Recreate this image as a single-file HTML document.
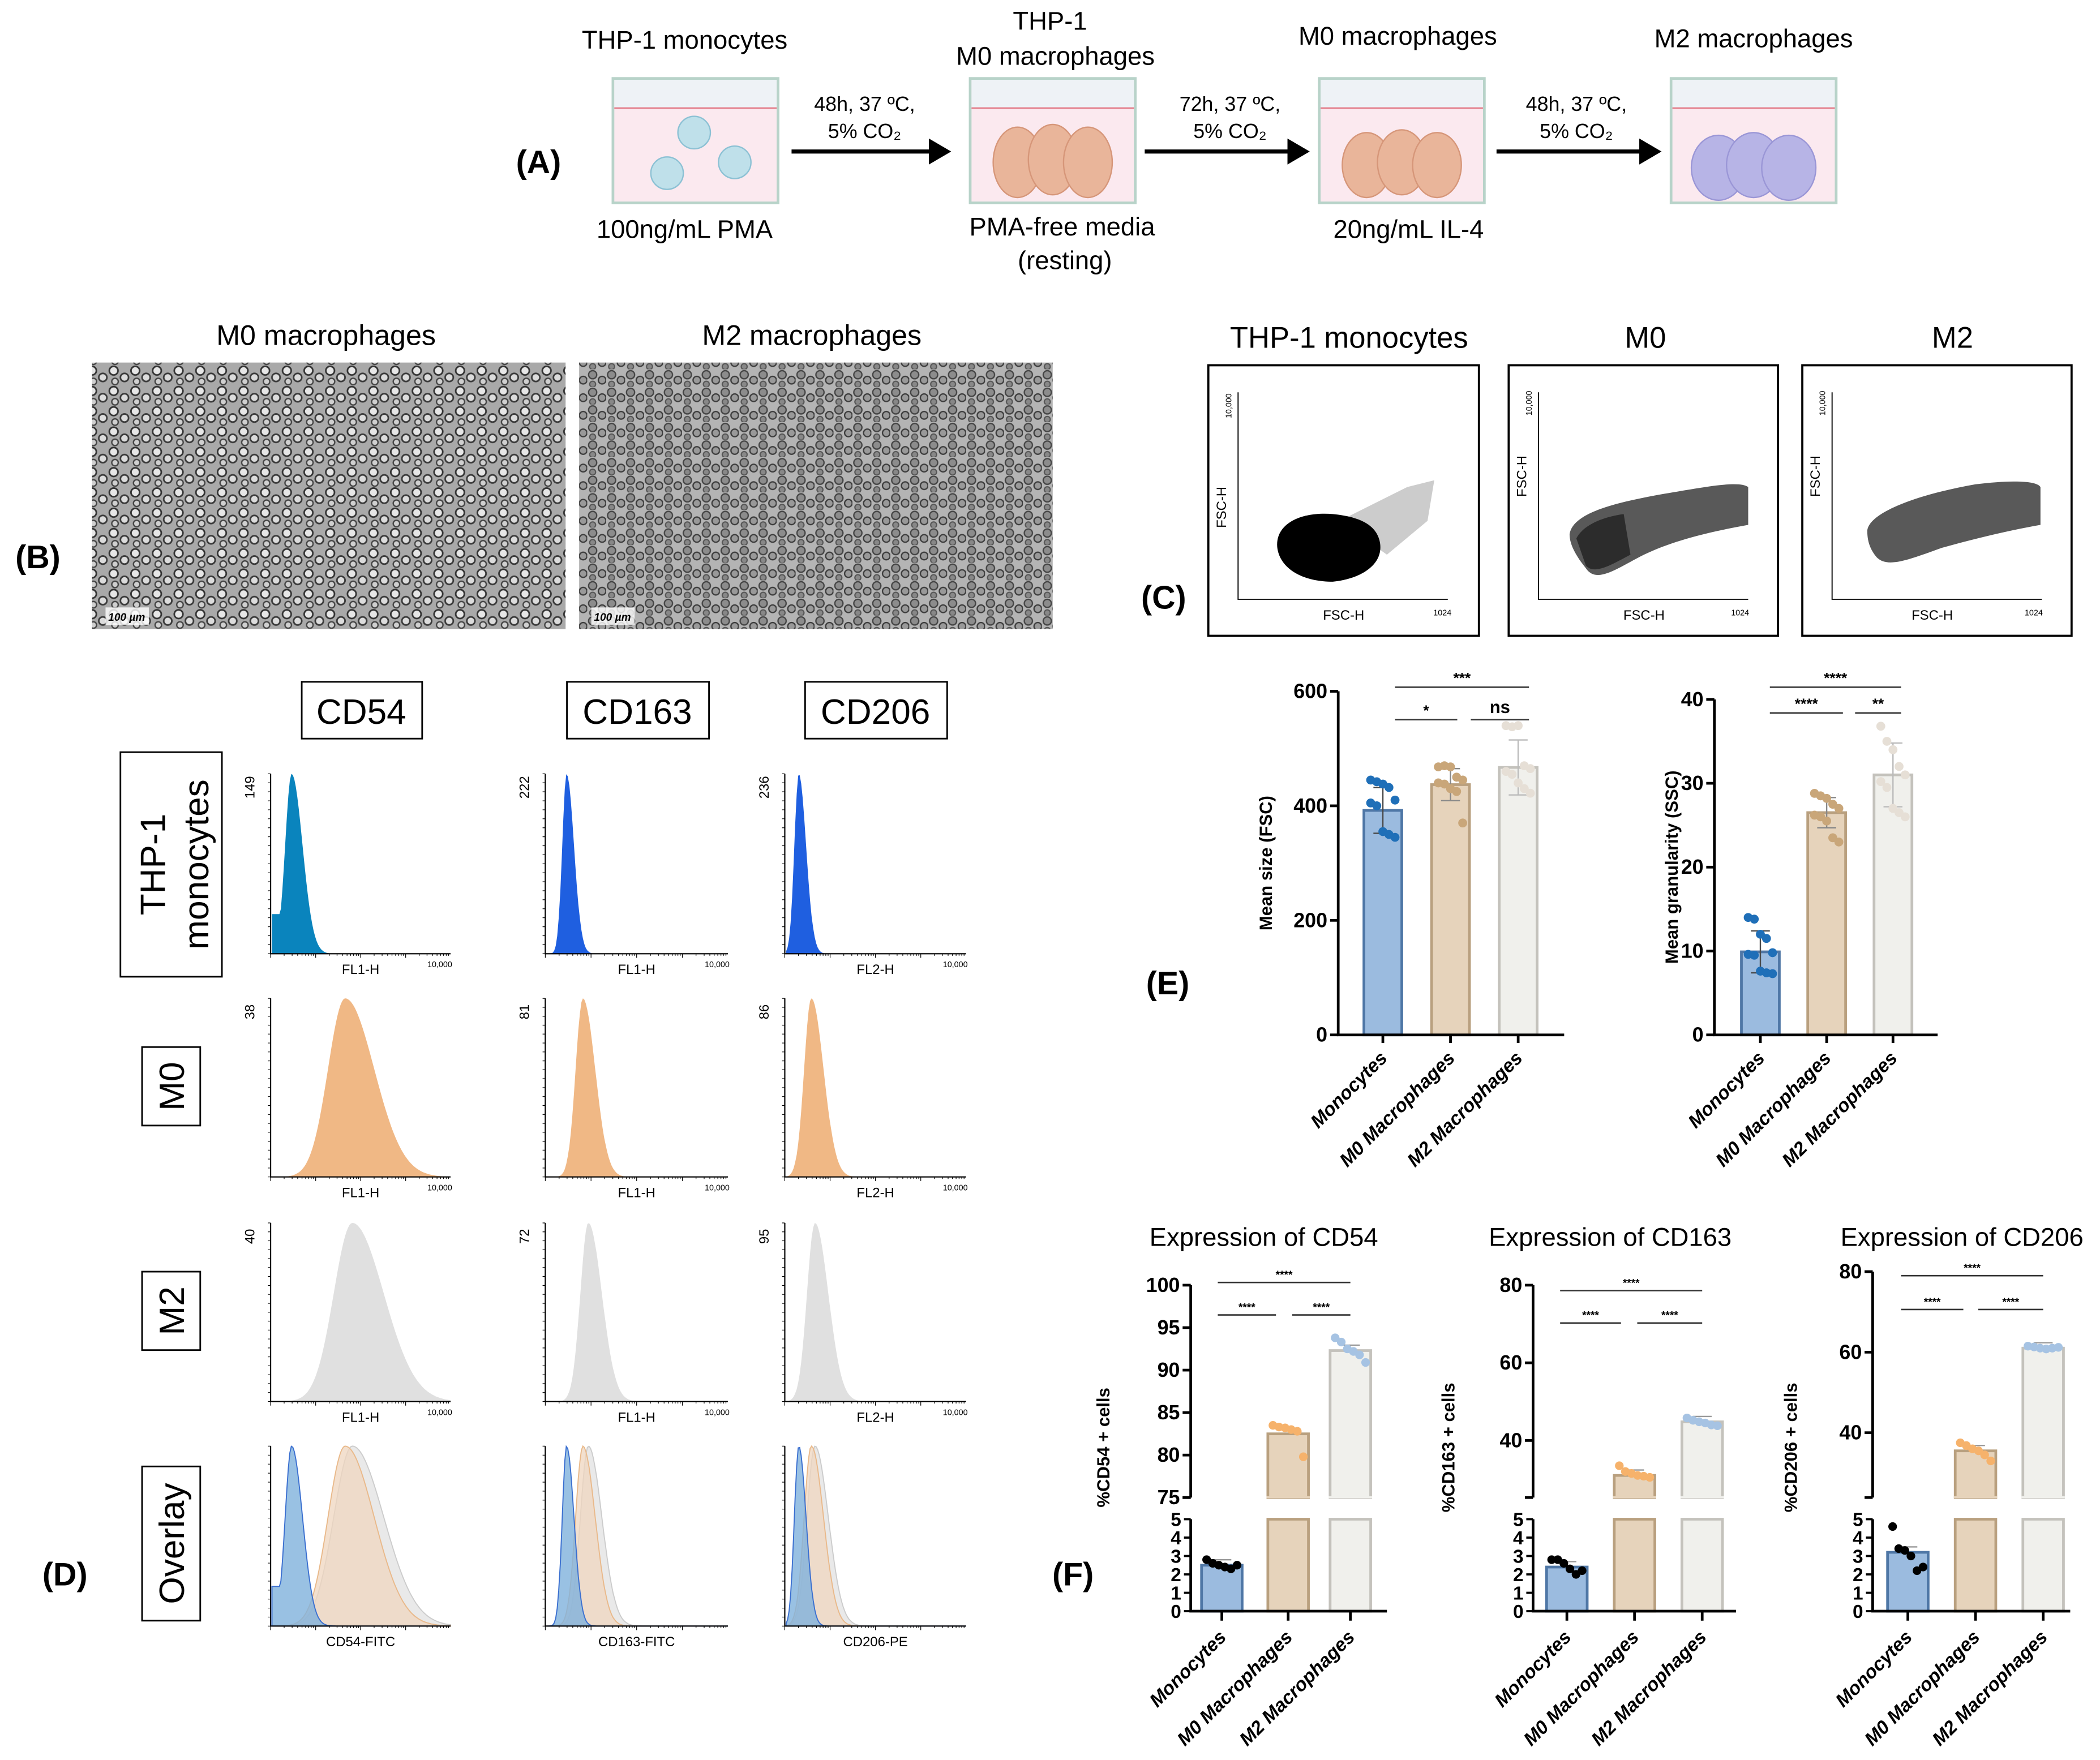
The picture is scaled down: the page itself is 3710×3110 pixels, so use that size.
<!DOCTYPE html>
<html><head><meta charset="utf-8"><style>
html,body{margin:0;padding:0;background:#fff}
svg{display:block;font-family:"Liberation Sans",Arial,sans-serif}
</style></head><body>
<svg id="fig" width="3710" height="3110" viewBox="0 0 1552 1301" xmlns="http://www.w3.org/2000/svg">
<defs>
<pattern id="cellsM0" width="16" height="15" patternUnits="userSpaceOnUse">
<rect width="16" height="15" fill="#a9a9a9"/>
<circle cx="4" cy="4" r="3.2" fill="#e6e6e6" stroke="#333" stroke-width="1.2"/>
<circle cx="12" cy="9" r="3" fill="#dcdcdc" stroke="#3a3a3a" stroke-width="1.2"/>
<circle cx="5" cy="12" r="2.4" fill="#d0d0d0" stroke="#444" stroke-width="1"/>
</pattern>
<pattern id="cellsM2" width="14" height="13" patternUnits="userSpaceOnUse">
<rect width="14" height="13" fill="#b4b4b4"/>
<circle cx="4" cy="4" r="3" fill="#8c8c8c" stroke="#444" stroke-width="1"/>
<circle cx="11" cy="8" r="2.8" fill="#999" stroke="#3c3c3c" stroke-width="1"/>
<circle cx="4" cy="11" r="2.2" fill="#888" stroke="#555" stroke-width="0.9"/>
</pattern>
</defs>

<!-- Panel A -->
<g font-size="19" text-anchor="middle" fill="#000">
<text x="398" y="128" font-size="24" font-weight="bold">(A)</text>
<text x="506" y="36">THP-1 monocytes</text>
<text x="776" y="22">THP-1</text>
<text x="780" y="48">M0 macrophages</text>
<text x="1033" y="33">M0 macrophages</text>
<text x="1296" y="35">M2 macrophages</text>
<text x="506" y="176">100ng/mL PMA</text>
<text x="785" y="174">PMA-free media</text>
<text x="787" y="199">(resting)</text>
<text x="1041" y="176">20ng/mL IL-4</text>
<g font-size="15">
<text x="639" y="82">48h, 37 ºC,</text><text x="639" y="102">5% CO₂</text>
<text x="909" y="82">72h, 37 ºC,</text><text x="909" y="102">5% CO₂</text>
<text x="1165" y="82">48h, 37 ºC,</text><text x="1165" y="102">5% CO₂</text>
</g>
<g stroke="#000" stroke-width="3">
<line x1="585" y1="112" x2="688" y2="112"/><polygon points="688,105 700,112 688,119" fill="#000"/>
<line x1="846" y1="112" x2="953" y2="112"/><polygon points="953,105 965,112 953,119" fill="#000"/>
<line x1="1106" y1="112" x2="1213" y2="112"/><polygon points="1213,105 1225,112 1213,119" fill="#000"/>
</g>
<g>
<g><rect x="453" y="58" width="122" height="92" fill="#fbe9ef" stroke="#b8d3c9" stroke-width="2"/><rect x="454" y="59" width="120" height="21" fill="#eef2f6"/><line x1="454" y1="80" x2="574" y2="80" stroke="#e58a96" stroke-width="1.5"/>
<circle cx="513" cy="98" r="12" fill="#bfe0ea" stroke="#8cc1d4"/><circle cx="493" cy="128" r="12" fill="#bfe0ea" stroke="#8cc1d4"/><circle cx="543" cy="120" r="12" fill="#bfe0ea" stroke="#8cc1d4"/></g>
<g><rect x="717" y="58" width="122" height="92" fill="#fbe9ef" stroke="#b8d3c9" stroke-width="2"/><rect x="718" y="59" width="120" height="21" fill="#eef2f6"/><line x1="718" y1="80" x2="838" y2="80" stroke="#e58a96" stroke-width="1.5"/>
<ellipse cx="752" cy="120" rx="18" ry="26" fill="#e9b59a" stroke="#d69679"/><ellipse cx="778" cy="118" rx="18" ry="26" fill="#e9b59a" stroke="#d69679"/><ellipse cx="804" cy="120" rx="18" ry="26" fill="#e9b59a" stroke="#d69679"/></g>
<g><rect x="975" y="58" width="122" height="92" fill="#fbe9ef" stroke="#b8d3c9" stroke-width="2"/><rect x="976" y="59" width="120" height="21" fill="#eef2f6"/><line x1="976" y1="80" x2="1096" y2="80" stroke="#e58a96" stroke-width="1.5"/>
<ellipse cx="1010" cy="122" rx="18" ry="24" fill="#e9b59a" stroke="#d69679"/><ellipse cx="1036" cy="120" rx="18" ry="24" fill="#e9b59a" stroke="#d69679"/><ellipse cx="1062" cy="122" rx="18" ry="24" fill="#e9b59a" stroke="#d69679"/></g>
<g><rect x="1235" y="58" width="122" height="92" fill="#fbe9ef" stroke="#b8d3c9" stroke-width="2"/><rect x="1236" y="59" width="120" height="21" fill="#eef2f6"/><line x1="1236" y1="80" x2="1356" y2="80" stroke="#e58a96" stroke-width="1.5"/>
<ellipse cx="1270" cy="124" rx="20" ry="24" fill="#b7b4e6" stroke="#9a96d6"/><ellipse cx="1296" cy="122" rx="20" ry="24" fill="#b7b4e6" stroke="#9a96d6"/><ellipse cx="1322" cy="124" rx="20" ry="24" fill="#b7b4e6" stroke="#9a96d6"/></g>
</g>
</g>

<!-- Panel B -->
<g>
<text x="28" y="420" font-size="24" font-weight="bold" text-anchor="middle">(B)</text>
<text x="241" y="255" font-size="21" text-anchor="middle">M0 macrophages</text>
<text x="600" y="255" font-size="21" text-anchor="middle">M2 macrophages</text>
<rect x="68" y="268" width="350" height="197" fill="url(#cellsM0)"/>
<rect x="428" y="268" width="350" height="197" fill="url(#cellsM2)"/>
<g font-size="8" font-style="italic" font-weight="bold"><rect x="78" y="449" width="32" height="13" fill="#fff" opacity="0.8"/><text x="80" y="459">100 µm</text>
<rect x="437" y="449" width="32" height="13" fill="#fff" opacity="0.8"/><text x="439" y="459">100 µm</text></g>
</g>

<!-- Panel C -->
<g>
<text x="860" y="450" font-size="24" font-weight="bold" text-anchor="middle">(C)</text>
<text x="997" y="257" font-size="22" text-anchor="middle">THP-1 monocytes</text>
<text x="1216" y="257" font-size="22" text-anchor="middle">M0</text>
<text x="1443" y="257" font-size="22" text-anchor="middle">M2</text>
<g fill="none" stroke="#000" stroke-width="1.6">
<rect x="893" y="270" width="200" height="200"/>
<rect x="1115" y="270" width="199" height="200"/>
<rect x="1332" y="270" width="199" height="200"/>
</g>
<g stroke="#000" stroke-width="0.8" fill="none">
<path d="M915,290 V443 H1070"/><path d="M1137,290 V443 H1292"/><path d="M1354,290 V443 H1509"/>
</g>
<g font-size="8" text-anchor="middle">
<text x="993" y="458" font-size="10">FSC-H</text><text x="1066" y="455" font-size="6">1024</text>
<text x="1215" y="458" font-size="10">FSC-H</text><text x="1286" y="455" font-size="6">1024</text>
<text x="1428" y="458" font-size="10">FSC-H</text><text x="1503" y="455" font-size="6">1024</text>
<text transform="translate(906,375) rotate(-90)" font-size="10">FSC-H</text>
<text transform="translate(1128,352) rotate(-90)" font-size="10">FSC-H</text>
<text transform="translate(1345,352) rotate(-90)" font-size="10">FSC-H</text>
<text transform="translate(910,300) rotate(-90)" font-size="6">10,000</text>
<text transform="translate(1132,298) rotate(-90)" font-size="6">10,000</text>
<text transform="translate(1349,298) rotate(-90)" font-size="6">10,000</text>
</g>
<g>
<path d="M944,405 C942,388 960,378 985,380 C1005,382 1018,388 1020,402 C1022,418 1005,428 985,430 C962,430 946,420 944,405Z" fill="#000"/>
<path d="M990,385 L1040,360 L1060,355 L1055,385 L1025,410Z" fill="#000" opacity="0.2"/>
<path d="M1160,395 C1162,380 1190,372 1230,365 C1260,360 1285,355 1292,360 L1292,388 C1270,392 1240,398 1215,410 C1195,420 1180,432 1172,420 C1164,410 1160,402 1160,395Z" fill="#000" opacity="0.65"/>
<path d="M1165,398 C1170,388 1185,382 1200,380 L1205,410 C1190,418 1178,425 1172,418Z" fill="#000" opacity="0.5"/>
<path d="M1380,392 C1382,378 1420,365 1460,358 C1485,355 1505,355 1508,360 L1508,388 C1485,392 1460,398 1435,405 C1410,414 1395,420 1387,412 C1381,405 1380,398 1380,392Z" fill="#000" opacity="0.65"/>
</g>
</g>

<!-- Panel D static labels -->
<g>
<text x="48" y="1172" font-size="24" font-weight="bold" text-anchor="middle">(D)</text>
<g fill="none" stroke="#000" stroke-width="1.2">
<rect x="223" y="504" width="89" height="42"/><rect x="419" y="504" width="105" height="42"/><rect x="595" y="504" width="105" height="42"/>
<rect x="89" y="556" width="75" height="166"/><rect x="105" y="774" width="43" height="58"/><rect x="105" y="940" width="43" height="58"/><rect x="105" y="1084" width="43" height="114"/>
</g>
<g font-size="26" text-anchor="middle">
<text x="267" y="535">CD54</text>
<text x="471" y="535">CD163</text>
<text x="647" y="535">CD206</text>
<text transform="translate(136,639) rotate(-90)"><tspan x="0" y="-14">THP-1</tspan><tspan x="0" y="18">monocytes</tspan></text>
<text transform="translate(136,803) rotate(-90)">M0</text>
<text transform="translate(136,969) rotate(-90)">M2</text>
<text transform="translate(136,1141) rotate(-90)">Overlay</text>
</g>
<g id="hists"></g>
</g>

<!-- Panel E, F -->
<text x="863" y="735" font-size="24" font-weight="bold" text-anchor="middle">(E)</text>
<text x="793" y="1172" font-size="24" font-weight="bold" text-anchor="middle">(F)</text>
<g id="charts"></g>
</svg>
<script>
const NS='http://www.w3.org/2000/svg';
const groups=['Monocytes','M0 Macrophages','M2 Macrophages'];
// Histogram data: peak position (fraction of log axis), left/right spread, max count label
const histMarkers=['CD54','CD163','CD206'];
const histPeakMono=[0.11,0.11,0.07];
const histPeakM0=[0.41,0.20,0.14];
const histPeakM2=[0.45,0.23,0.16];
const histSpreadMono=[0.045,0.03,0.03];
const histSpreadM0=[0.12,0.05,0.05];
const histSpreadM2=[0.13,0.055,0.055];
const histMaxMono=['149','222','236'];
const histMaxM0=['38','81','86'];
const histMaxM2=['40','72','95'];
const histXLabels=['FL1-H','FL1-H','FL2-H'];
const overlayXLabels=['CD54-FITC','CD163-FITC','CD206-PE'];
// Panel E data
const sizeMeans=[392,437,467];
const sizeSD=[40,28,48];
const sizePoints=[[445,442,438,432,410,405,400,355,350,345],[468,470,468,450,445,440,438,430,425,370],[540,538,540,470,465,460,455,440,430,422]];
const granMeans=[9.9,26.5,31];
const granSD=[2.5,1.8,3.8];
const granPoints=[[14,13.8,12,11.5,9.8,9.6,9.5,7.6,7.4,7.3],[28.8,28.5,28.2,27.5,27,26.2,26,25.5,23.5,23],[36.8,35,34,32,31,30.2,29.5,27,26.5,26]];
// Panel F data
const cd54Means=[2.5,82.5,92.3];
const cd54Points=[[2.8,2.6,2.5,2.4,2.3,2.5],[83.5,83.3,83.2,83,82.8,79.8],[93.8,93.3,92.5,92.2,91.8,90.9]];
const cd163Means=[2.4,31,44.8];
const cd163Points=[[2.8,2.8,2.6,2.3,2.0,2.2],[33.5,32,31.5,31,30.8,30.5],[45.8,45.2,44.8,44.5,44,43.8]];
const cd206Means=[3.2,35.5,61];
const cd206Points=[[4.6,3.4,3.3,3.0,2.2,2.4],[37.5,36.8,36,35.5,34.5,33],[61.5,61.3,61,60.8,61,61.2]];

const fills=['#9bbbdf','#e6d3bb','#f0f0ec'];
const strokes=['#4f77a6','#b9a07f','#c4c2bc'];
const dotCols=['#1f6fb8','#c9a679','#e6dfd6'];
const fDot=['#000','#f6b26b','#a6c3e3'];

function add(parent,tag,attrs){const e=document.createElementNS(NS,tag);for(const k in attrs)e.setAttribute(k,attrs[k]);parent.appendChild(e);return e;}

// ---------- histograms ----------
const hg=document.getElementById('hists');
const colX=[[200,333],[403,538],[580,714]];
const rowY=[[572,705],[738,870],[904,1036],[1069,1202]];
const histFill=['#0a84bd','#f0b885','#e0e0e0'];
const histFillAlt=['#0a84bd','#1f5fe0','#1f5fe0'];
function curve(x0,x1,y0,y1,peak,spr,shoulder){
  const w=x1-x0;let d='M'+x0+','+y1;
  for(let i=0;i<=120;i++){const f=i/120;const s=f<peak?spr*0.8:spr*1.35;let v=Math.exp(-Math.pow((f-peak)/s,2)/2);
    if(shoulder && f<peak) v=Math.max(v,0.22);
    d+=' L'+(x0+f*w).toFixed(1)+','+(y1-v*(y1-y0)).toFixed(1);}
  return d+' L'+x1+','+y1+'Z';
}
for(let c=0;c<3;c++){
  const [x0,x1]=colX[c];
  const peaks=[histPeakMono[c],histPeakM0[c],histPeakM2[c]];
  const sprs=[histSpreadMono[c],histSpreadM0[c],histSpreadM2[c]];
  const maxes=[histMaxMono[c],histMaxM0[c],histMaxM2[c]];
  for(let r=0;r<4;r++){
    const [y0,y1]=rowY[r];
    if(r<3){
      const p=add(hg,'path',{d:curve(x0+1,x1,y0,y1,peaks[r],sprs[r],r===0&&c===0),fill:r===0?histFillAlt[c]:histFill[r]});
      
      
      const t=add(hg,'text',{transform:'translate('+(x0-12)+','+(y0+10)+') rotate(-90)','font-size':'10','text-anchor':'middle'});t.textContent=maxes[r];
      
      
      const xl=add(hg,'text',{x:(x0+x1)/2,y:y1+15,'font-size':'10','text-anchor':'middle'});xl.textContent=histXLabels[c];
      
      
      const mx=add(hg,'text',{x:x1-8,y:y1+10,'font-size':'6','text-anchor':'middle'});mx.textContent='10,000';
    } else {
      const ov=[[2,'#e3e3e3',0.8],[1,'#efd6bf',0.75],[0,'#7fb2dc',0.8]];
      for(const [k,col,op] of ov){
        const p=add(hg,'path',{d:curve(x0+1,x1,y0,y1,peaks[k],sprs[k],k===0&&c===0),fill:col,'fill-opacity':op,stroke:k===0?'#3a6fd0':(k===1?'#e9b98a':'#ccc'),'stroke-width':'0.8'});
        
        
      }
      const xl=add(hg,'text',{x:(x0+x1)/2,y:y1+15,'font-size':'10','text-anchor':'middle'});xl.textContent=overlayXLabels[c];
      
      
    }
    add(hg,'path',{d:'M'+x0+','+y0+' V'+y1+' H'+x1,fill:'none',stroke:'#000','stroke-width':'0.9'});
    let ticks='';for(let i=0;i<=20;i++){ticks+='M'+(x0-2)+','+(y0+i*(y1-y0)/20)+' h2 ';}
    for(let dcd=0;dcd<4;dcd++){for(let m=1;m<10;m++){const xx=x0+(dcd+Math.log10(m))*(x1-x0)/4;ticks+='M'+xx.toFixed(1)+','+y1+' v'+(m===1?3:1.5)+' ';}}
    add(hg,'path',{d:ticks,stroke:'#000','stroke-width':'0.5',fill:'none'});
  }
}

// ---------- Panel E ----------
const cg=document.getElementById('charts');
function xlabels(g,xs,y){
  for(let i=0;i<3;i++){const t=add(g,'text',{transform:'translate('+(xs[i]+4)+','+(y)+') rotate(-45)','text-anchor':'end','font-size':'14','font-weight':'bold','font-style':'italic'});t.textContent=groups[i];
  
  }
}
function bracket(g,xa,xb,y,label,fs){
  add(g,'line',{x1:xa,x2:xb,y1:y,y2:y,stroke:'#333','stroke-width':'1.1'});
  const t=add(g,'text',{x:(xa+xb)/2,y:y-(label==='ns'?5:3),'text-anchor':'middle','font-size':label==='ns'?13:fs,'font-weight':'bold'});t.textContent=label;
  
  
}
function barChartE(name,ax,xEnd,bx,yTop,yBot,max,ticks,means,sds,pts,ylab,labX,brackets){
  const g=add(cg,'g',{});
  
  
  const Y=v=>yBot-(v/max)*(yBot-yTop);
  for(let i=0;i<3;i++){
    const r=add(g,'rect',{x:bx[i]-14,y:Y(means[i]),width:28,height:yBot-Y(means[i]),fill:fills[i],stroke:strokes[i],'stroke-width':'2'});
    
    
    const sc=i===0?'#4a4a4a':'#888';
    add(g,'path',{d:'M'+bx[i]+','+Y(means[i]+sds[i])+' V'+Y(means[i]-sds[i])+' M'+(bx[i]-7)+','+Y(means[i]+sds[i])+' h14 M'+(bx[i]-7)+','+Y(means[i]-sds[i])+' h14',stroke:i===2?'#bbb':sc,'stroke-width':'1',fill:'none'});
    pts[i].forEach((v,j)=>{const dx=((j%5)-2)*4.5;const c=add(g,'circle',{cx:bx[i]+dx,cy:Y(v),r:3.3,fill:dotCols[i]});
      
      });
  }
  add(g,'path',{d:'M'+ax+','+yTop+' V'+yBot+' H'+xEnd,stroke:'#000','stroke-width':'2',fill:'none'});
  ticks.forEach(v=>{add(g,'line',{x1:ax-6,x2:ax,y1:Y(v),y2:Y(v),stroke:'#000','stroke-width':'2'});
    const t=add(g,'text',{x:ax-8,y:Y(v)+5,'text-anchor':'end','font-size':'15','font-weight':'bold'});t.textContent=v;
    
    });
  bx.forEach(x=>add(g,'line',{x1:x,x2:x,y1:yBot,y2:yBot+6,stroke:'#000','stroke-width':'2'}));
  const yl=add(g,'text',{transform:'translate('+labX+','+((yTop+yBot)/2)+') rotate(-90)','text-anchor':'middle','font-size':'13','font-weight':'bold'});yl.textContent=ylab;
  
  
  brackets.forEach(b=>bracket(g,b[0],b[1],b[2],b[3],11));
  xlabels(g,bx,yBot+18);
}
barChartE('size-chart',989,1156,[1022,1072,1122],511,765,600,[0,200,400,600],sizeMeans,sizeSD,sizePoints,'Mean size (FSC)',940,
  [[1031,1130,508,'***'],[1031,1077,532,'*'],[1087,1130,532,'ns']]);
barChartE('granularity-chart',1267,1432,[1301,1350,1399],517,765,40,[0,10,20,30,40],granMeans,granSD,granPoints,'Mean granularity (SSC)',1240,
  [[1308,1405,508,'****'],[1308,1362,527,'****'],[1371,1405,527,'**']]);

// ---------- Panel F (broken axes) ----------
function brokenChart(name,title,titleX,ax,xEnd,bx,upMin,upMax,upTicks,upTopY,means,pts,ylab,labX,br){
  const g=add(cg,'g',{});
  
  
  const upBot=1107,loTop=1123,loBot=1191;
  const YU=v=>upBot-(v-upMin)/(upMax-upMin)*(upBot-upTopY);
  const YL=v=>loBot-v/5*(loBot-loTop);
  for(let i=0;i<3;i++){
    const m=means[i];
    if(m<=5){
      const r=add(g,'rect',{x:bx[i]-15,y:YL(m),width:30,height:loBot-YL(m),fill:fills[i],stroke:strokes[i],'stroke-width':'2'});
      
      
    } else {
      const r=add(g,'rect',{x:bx[i]-15,y:YU(m),width:30,height:upBot-YU(m),fill:fills[i],stroke:strokes[i],'stroke-width':'2'});
      
      
      add(g,'rect',{x:bx[i]-15,y:loTop,width:30,height:loBot-loTop,fill:fills[i],stroke:strokes[i],'stroke-width':'2'});
      add(g,'rect',{x:bx[i]-16,y:upBot-1,width:32,height:1.5,fill:fills[i]});
    }
    const Yf=v=>v<=5?YL(v):YU(v);
    add(g,'line',{x1:bx[i]-7,x2:bx[i]+7,y1:Yf(m)-4,y2:Yf(m)-4,stroke:'#999','stroke-width':'1'});
    pts[i].forEach((v,j)=>{const dx=((j%6)-2.5)*4.5;const c=add(g,'circle',{cx:bx[i]+dx,cy:Yf(v),r:3.2,fill:fDot[i]});
      
      });
  }
  add(g,'path',{d:'M'+ax+','+upTopY+' V'+upBot+' M'+(ax-6)+','+upBot+' h6 M'+ax+','+loTop+' V'+loBot+' H'+xEnd,stroke:'#000','stroke-width':'2',fill:'none'});
  upTicks.forEach(v=>{add(g,'line',{x1:ax-6,x2:ax,y1:YU(v),y2:YU(v),stroke:'#000','stroke-width':'2'});
    const t=add(g,'text',{x:ax-8,y:YU(v)+5,'text-anchor':'end','font-size':'15','font-weight':'bold'});t.textContent=v;
    
    });
  [0,1,2,3,4,5].forEach(v=>{add(g,'line',{x1:ax-5,x2:ax,y1:YL(v),y2:YL(v),stroke:'#000','stroke-width':'1.6'});
    const t=add(g,'text',{x:ax-7,y:YL(v)+5,'text-anchor':'end','font-size':'14','font-weight':'bold'});t.textContent=v;
    
    });
  bx.forEach(x=>add(g,'line',{x1:x,x2:x,y1:loBot,y2:loBot+7,stroke:'#000','stroke-width':'2'}));
  const tt=add(g,'text',{x:titleX,y:921,'text-anchor':'middle','font-size':'19'});tt.textContent=title;
  
  
  const yl=add(g,'text',{transform:'translate('+labX+',1070) rotate(-90)','text-anchor':'middle','font-size':'13','font-weight':'bold'});yl.textContent=ylab;
  
  
  br.forEach(b=>bracket(g,b[0],b[1],b[2],'****',8));
  xlabels(g,bx,loBot+20);
}
brokenChart('cd54-chart','Expression of CD54',934,880,1025,[903,952,998],75,100,[75,80,85,90,95,100],950,cd54Means,cd54Points,'%CD54 + cells',820,
  [[900,998,948],[900,943,972],[955,998,972]]);
brokenChart('cd163-chart','Expression of CD163',1190,1133,1283,[1158,1208,1258],25.3,80,[40,60,80],950,cd163Means,cd163Points,'%CD163 + cells',1075,
  [[1153,1258,954],[1153,1198,978],[1210,1258,978]]);
brokenChart('cd206-chart','Expression of CD206',1450,1384,1530,[1410,1460,1510],23.9,80,[40,60,80],940,cd206Means,cd206Points,'%CD206 + cells',1328,
  [[1405,1510,943],[1405,1451,968],[1462,1510,968]]);
</script>
</body></html>
